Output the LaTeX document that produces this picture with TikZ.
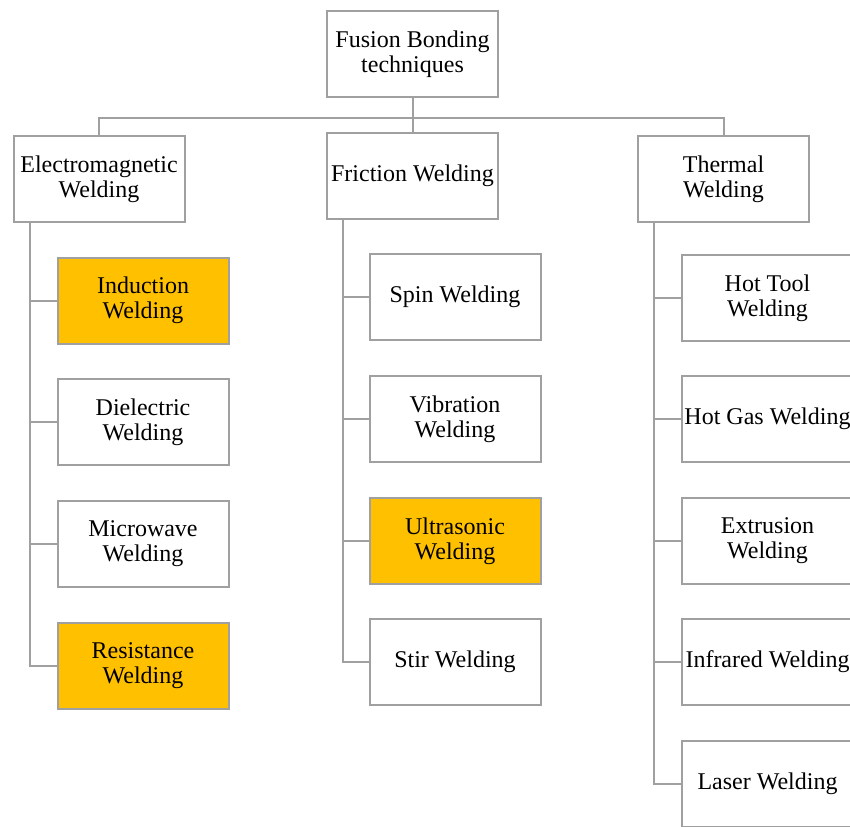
\documentclass[tikz,border=0pt]{standalone}
\usepackage{fontspec}
\setmainfont{Liberation Serif}
\usetikzlibrary{calc}
\definecolor{linegray}{RGB}{160,160,160}
\definecolor{hlorange}{RGB}{255,192,0}
\begin{document}
\begin{tikzpicture}[x=1pt,y=-1pt,
  box/.style={draw=linegray,line width=2pt,fill=white,rectangle,minimum width=171pt,minimum height=86pt,inner sep=0pt,align=center,font=\fontsize{24}{25}\selectfont},
  hl/.style={box,fill=hlorange},
  conn/.style={draw=linegray,line width=2pt}]
\useasboundingbox (0,0) rectangle (850,826);
\fill[white] (0,0) rectangle (850,826);
% top level
\node[box] (top) at (412.5,54) {Fusion Bonding\\techniques};
\node[box] (em) at (99,179) {Electromagnetic\\Welding};
\node[box] (fr) at (412.5,176) {Friction Welding};
\node[box] (th) at (723.5,179) {Thermal\\Welding};
\coordinate (bar) at (0,118);
\draw[conn] (top.south) -- (top.south |- bar);
\draw[conn] (em.north) |- (th.north |- bar) -- (th.north);
\draw[conn] (fr.north) -- (fr.north |- bar);
% electromagnetic children
\node[hl] (ind) at (143,300.5) {Induction\\Welding};
\node[box] (die) at (143,422) {Dielectric\\Welding};
\node[box] (mic) at (143,544) {Microwave\\Welding};
\node[hl] (res) at (143,665.5) {Resistance\\Welding};
\coordinate (emv) at ($(em.south west)+(17,0)$);
\draw[conn] (emv) |- (res.west);
\foreach \c in {ind,die,mic} \draw[conn] (emv |- \c.west) -- (\c.west);
% friction children
\node[box] (spin) at (455,297) {Spin Welding};
\node[box] (vib) at (455,419) {Vibration\\Welding};
\node[hl] (ult) at (455,541) {Ultrasonic\\Welding};
\node[box] (stir) at (455,662) {Stir Welding};
\coordinate (frv) at ($(fr.south west)+(17,0)$);
\draw[conn] (frv) |- (stir.west);
\foreach \c in {spin,vib,ult} \draw[conn] (frv |- \c.west) -- (\c.west);
% thermal children
\node[box] (ht) at (767.5,298) {Hot Tool\\Welding};
\node[box] (hg) at (767.5,419) {Hot Gas Welding};
\node[box] (ext) at (767.5,541) {Extrusion\\Welding};
\node[box] (ir) at (767.5,662) {Infrared Welding};
\node[box] (las) at (767.5,784) {Laser Welding};
\coordinate (thv) at ($(th.south west)+(17,0)$);
\draw[conn] (thv) |- (las.west);
\foreach \c in {ht,hg,ext,ir} \draw[conn] (thv |- \c.west) -- (\c.west);
\end{tikzpicture}
\end{document}
